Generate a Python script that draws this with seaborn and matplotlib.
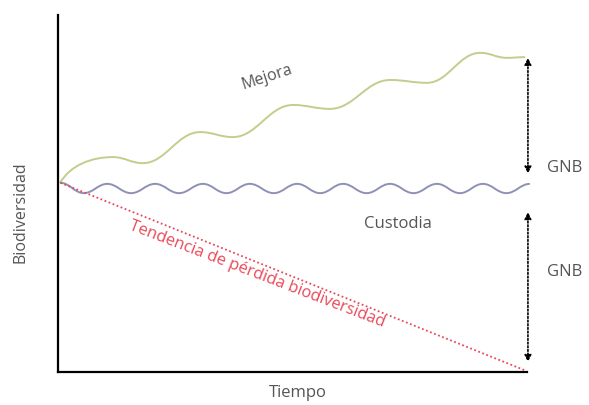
import matplotlib
matplotlib.use("Agg")
import matplotlib.pyplot as plt
from matplotlib.path import Path
from matplotlib.patches import PathPatch
import seaborn as sns
import pandas as pd

# Datos (Tiempo 0-100, Biodiversidad 0-100)
mejora_x = [0.4, 11.7, 18.1, 30.3, 37.3, 50.1, 58.0, 70.8, 78.7, 90.0, 95.7, 99.6]
mejora_y = [52.9, 60.2, 58.5, 67.2, 65.8, 74.8, 73.7, 81.8, 81.0, 89.4, 88.0, 88.2]

custodia_x = [0.5, 5.5, 10.5, 15.6, 20.7, 25.8, 30.9, 35.9, 40.9, 46.0, 51.0,
              55.9, 60.8, 65.8, 70.8, 75.8, 80.8, 85.7, 90.6, 95.6, 100.6]
custodia_y = [53.0, 50.1, 52.7, 50.1, 52.7, 50.1, 52.7, 50.1, 52.7, 50.1, 52.7,
              50.1, 52.7, 50.1, 52.7, 50.1, 52.7, 50.1, 52.7, 50.1, 52.7]

tendencia_x = [0.5, 99.5]
tendencia_y = [53.0, 0.5]

gnb_x = 100.2
gnb_sup = [88.0, 55.6]
gnb_inf = [44.8, 2.8]

sns.set_theme(style="white")
plt.rcParams["font.family"] = ["Open Sans", "DejaVu Sans"]

fig = plt.figure(figsize=(5.89, 4.05), dpi=100)
ax = fig.add_axes([58 / 589, 33 / 405, 469 / 589, 357 / 405])
ax.set_xlim(0, 100)
ax.set_ylim(0, 100)


def curva_suave(xs, ys, inicio_recto=False):
    # curva suave entre máximos y mínimos leídos
    verts = [(xs[0], ys[0])]
    codes = [Path.MOVETO]
    for i in range(1, len(xs)):
        d = (xs[i] - xs[i - 1]) * 0.4
        c1 = (xs[i - 1] + d, ys[i - 1])
        if i == 1 and inicio_recto:
            c1 = (xs[0] + d * 0.5, ys[0] + (ys[1] - ys[0]) * 0.7)
        verts += [c1, (xs[i] - d, ys[i]), (xs[i], ys[i])]
        codes += [Path.CURVE4] * 3
    return Path(verts, codes)


ax.add_patch(PathPatch(curva_suave(mejora_x, mejora_y, inicio_recto=True),
                       fill=False, edgecolor="#c3cd8c", lw=1.4, clip_on=False))
ax.add_patch(PathPatch(curva_suave(custodia_x, custodia_y), fill=False,
                       edgecolor="#8e90b6", lw=1.4, clip_on=False))

df_t = pd.DataFrame({"Tiempo": tendencia_x, "Biodiversidad": tendencia_y})
sns.lineplot(data=df_t, x="Tiempo", y="Biodiversidad", ax=ax, color="#e84a5a",
             lw=1.3, linestyle=(0, (1, 1.4)))

for par in (gnb_sup, gnb_inf):
    ax.annotate("", xy=(gnb_x, par[1]), xytext=(gnb_x, par[0]),
                arrowprops=dict(arrowstyle="<|-|>", color="black", lw=1.2,
                                linestyle=(0, (1, 1.2)), mutation_scale=10,
                                shrinkA=0, shrinkB=0), annotation_clip=False)

txt = "#555555"
ax.text(44.6, 82.5, "Mejora", rotation=18, color=txt, fontsize=11.5,
        ha="center", va="center")
ax.text(72.5, 41.5, "Custodia", color=txt, fontsize=12, ha="center", va="center")
ax.text(42.5, 27.3, "Tendencia de pérdida biodiversidad", rotation=-21,
        color="#e84a5a", fontsize=11.8, ha="center", va="center")
ax.text(104.2, 57.1, "GNB", color=txt, fontsize=12, ha="left", va="center",
        clip_on=False)
ax.text(104.2, 28.0, "GNB", color=txt, fontsize=12, ha="left", va="center",
        clip_on=False)

ax.set_xlabel("Tiempo", color=txt, fontsize=12)
ax.set_ylabel("Biodiversidad", color=txt, fontsize=11.5)
ax.xaxis.set_label_coords(0.512, -0.036)
ax.yaxis.set_label_coords(-0.062, 0.448)
ax.set_xticks([])
ax.set_yticks([])

sns.despine(ax=ax)
for s in ("left", "bottom"):
    ax.spines[s].set_color("black")
    ax.spines[s].set_linewidth(1.6)

fig.savefig("out.png", dpi=100)
